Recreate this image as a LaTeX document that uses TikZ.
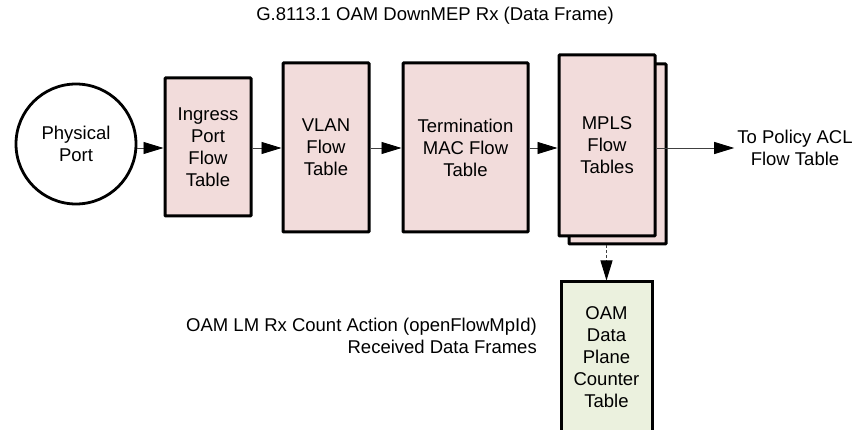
\documentclass[tikz,border=0pt]{standalone}
\usepackage{fontspec}
\setmainfont{Liberation Sans}
\usetikzlibrary{arrows.meta}
\definecolor{pinkfill}{HTML}{F2DCDB}
\definecolor{greenfill}{HTML}{EBF1DE}
\definecolor{lineg}{HTML}{404040}
\begin{document}
\begin{tikzpicture}[x=1pt,y=-1pt,
  every node/.style={font=\fontsize{18.5}{22}\selectfont, align=center, inner sep=0pt},
  tbl/.style={draw=black, line width=3pt, fill=pinkfill, rounded corners=0.8pt},
  oamtbl/.style={draw=black, line width=3pt, fill=greenfill},
  arr/.style={draw=lineg, -{Triangle[length=20pt,width=12pt,fill=black,color=black]}, line width=0.9pt},
  darr/.style={draw=lineg, -{Triangle[length=20pt,width=12pt,fill=black,color=black]}, line width=0.9pt, dash pattern=on 3pt off 2pt}]
\clip (0,0) rectangle (857,430);
\fill[white] (0,0) rectangle (857,430);
\coordinate (row) at (0,148);
% title
\node (title) at (435,16) {G.8113.1 OAM DownMEP Rx (Data Frame)};
% physical port
\node[draw=black, line width=2.8pt, circle, minimum size=120pt, fill=white] (pp) at (76,144) {Physical\\Port};
% ingress
\node[tbl, minimum width=86pt, minimum height=138pt] (ing) at (208,147) {Ingress\\Port\\Flow\\Table};
% vlan
\node[tbl, minimum width=86pt, minimum height=169pt] (vlan) at (326,147.5) {VLAN\\Flow\\Table};
% termination
\node[tbl, minimum width=125pt, minimum height=169pt] (term) at (465.5,147.5) {Termination\\MAC Flow\\Table};
% mpls stack
\node[tbl, minimum width=97pt, minimum height=180pt] (mplsb) at (617.5,154) {};
\node[tbl, minimum width=96pt, minimum height=181pt] (mpls) at (607,145.5) {MPLS\\Flow\\Tables};
% to policy
\node (pol) at (795,148) {To Policy ACL\\Flow Table};
% oam counter
\node[oamtbl, minimum width=91pt, minimum height=150pt] (oam) at (606.5,357) {OAM\\Data\\Plane\\Counter\\Table};
% left label
\node[anchor=east, align=right] (lbl) at (537,336) {OAM LM Rx Count Action (openFlowMpId)\\Received Data Frames};
% connectors
\draw[arr] (pp.east |- row) -- (ing.west |- row);
\draw[arr] (ing.east |- row) -- (vlan.west |- row);
\draw[arr] (vlan.east |- row) -- (term.west |- row);
\draw[arr] (term.east |- row) -- (mpls.west |- row);
\draw[arr] (mpls.east |- row) -- ([xshift=-3pt]pol.west |- row);
\draw[darr] (oam.north |- mplsb.south) -- (oam.north);
\end{tikzpicture}
\end{document}
